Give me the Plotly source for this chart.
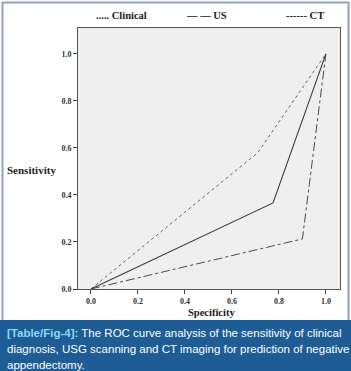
import plotly.graph_objects as go

clin_x = [0.0, 0.71, 1.0]
clin_y = [0.0, 0.58, 1.0]
us_x = [0.0, 0.775, 1.0]
us_y = [0.0, 0.366, 1.0]
ct_x = [0.0, 0.90, 1.0]
ct_y = [0.0, 0.213, 1.0]
ticks = [0.0, 0.2, 0.4, 0.6, 0.8, 1.0]
tick_labels = ["0.0", "0.2", "0.4", "0.6", "0.8", "1.0"]

W, H = 351, 371
ML, MR, MT, MB = 78, 11, 28, 82
PW = W - ML - MR
PH = H - MT - MB

fig = go.Figure()
fig.add_trace(go.Scatter(x=clin_x, y=clin_y, mode="lines",
                         line=dict(color="#6a6a6a", width=1, dash="dot"), name="Clinical"))
fig.add_trace(go.Scatter(x=us_x, y=us_y, mode="lines",
                         line=dict(color="#3a3a3a", width=1.1), name="US"))
fig.add_trace(go.Scatter(x=ct_x, y=ct_y, mode="lines",
                         line=dict(color="#4a4a4a", width=1, dash="dashdot"), name="CT"))

axis_font = dict(family="Liberation Serif, Times New Roman, serif", size=8, color="#333333")
bold_ticks = ["<b>%s</b>" % t for t in tick_labels]
fig.update_xaxes(range=[-0.055, 1.06], tickvals=ticks, ticktext=bold_ticks,
                 ticks="outside", ticklen=4, tickcolor="#444", tickfont=axis_font,
                 showgrid=False, zeroline=False, showline=True, linecolor="#555",
                 linewidth=1, mirror=True)
fig.update_yaxes(range=[0, 1.11], tickvals=ticks, ticktext=bold_ticks,
                 ticks="outside", ticklen=4, tickcolor="#444", tickfont=axis_font,
                 showgrid=False, zeroline=False, showline=True, linecolor="#555",
                 linewidth=1, mirror=True)

serif_b = "Liberation Serif, Times New Roman, serif"
def px(x):
    return (x - ML) / PW
def py(y):
    return (H - MB - y) / PH

anns = [
    dict(text="<b>..... Clinical</b>", x=px(121), y=py(15), size=10.5),
    dict(text="<b>— — US</b>", x=px(206), y=py(15), size=10.5),
    dict(text="<b>------ CT</b>", x=px(305), y=py(15), size=10.5),
    dict(text="<b>Sensitivity</b>", x=px(31), y=py(170), size=11),
    dict(text="<b>Specificity</b>", x=px(211), y=py(313), size=10.5),
]
for a in anns:
    fig.add_annotation(text=a["text"], x=a["x"], y=a["y"], xref="paper", yref="paper",
                       xanchor="center", yanchor="middle", showarrow=False,
                       font=dict(family=serif_b, size=a["size"], color="#222"))

cap_font = dict(family="Liberation Sans, Arial, sans-serif", size=11.5, color="#ffffff")
cap_lines = [
    "<b><span style='color:#8fd6f5'>[Table/Fig-4]:</span></b> The ROC curve analysis of the sensitivity of clinical",
    "diagnosis, USG scanning and CT imaging for prediction of negative",
    "appendectomy.",
]
for i, t in enumerate(cap_lines):
    fig.add_annotation(text=t, x=px(5), y=py(333 + 16 * i), xref="paper", yref="paper",
                       xanchor="left", yanchor="middle", showarrow=False, font=cap_font)

shapes = [
    dict(type="rect", x0=px(0), x1=px(W), y0=py(H), y1=py(320), xref="paper", yref="paper",
         fillcolor="#1d5c94", line=dict(width=0), layer="below"),
    dict(type="line", x0=px(2.5), x1=px(2.5), y0=py(2), y1=py(320), xref="paper", yref="paper",
         line=dict(color="#8ea2c6", width=2)),
    dict(type="line", x0=px(2), x1=px(349), y0=py(2.5), y1=py(2.5), xref="paper", yref="paper",
         line=dict(color="#8ea2c6", width=2)),
    dict(type="line", x0=px(348.5), x1=px(348.5), y0=py(2), y1=py(320), xref="paper", yref="paper",
         line=dict(color="#8ea2c6", width=2)),
]
for s in shapes:
    fig.add_shape(**s)

fig.update_layout(width=W, height=H, margin=dict(l=ML, r=MR, t=MT, b=MB),
                  paper_bgcolor="#ffffff", plot_bgcolor="#efefef", showlegend=False)
fig.write_html("out.html")
